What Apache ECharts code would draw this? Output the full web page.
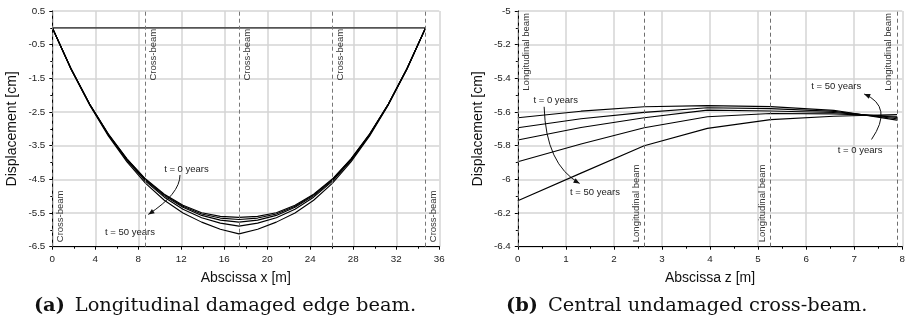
<!DOCTYPE html>
<html>
<head>
<meta charset="utf-8">
<script src="https://cdn.jsdelivr.net/npm/echarts@6/dist/echarts.min.js"></script>
<style>
  html, body { margin: 0; padding: 0; background: #fff; }
  #c { width: 908px; height: 324px; }
</style>
</head>
<body>
<div id="c"></div>
<script>
// ---- (a) Longitudinal damaged edge beam: displacement along x [m] ----
const edgeX = [0, 1.736, 3.473, 5.209, 6.946, 8.682, 10.419, 12.156, 13.892, 15.629, 17.365,
               19.102, 20.838, 22.575, 24.311, 26.048, 27.784, 29.521, 31.257, 32.994, 34.73];
const edgeT0  = [0, -1.21, -2.26, -3.15, -3.89, -4.49, -4.94, -5.27, -5.49, -5.60, -5.63,
                 -5.60, -5.49, -5.27, -4.94, -4.49, -3.89, -3.15, -2.26, -1.21, 0];
const edgeT1  = [0, -1.21, -2.26, -3.16, -3.90, -4.51, -4.96, -5.30, -5.53, -5.65, -5.69,
                 -5.65, -5.53, -5.30, -4.96, -4.51, -3.90, -3.16, -2.26, -1.21, 0];
const edgeT2  = [0, -1.21, -2.27, -3.17, -3.92, -4.53, -4.99, -5.33, -5.57, -5.71, -5.77,
                 -5.71, -5.57, -5.33, -4.99, -4.53, -3.92, -3.17, -2.27, -1.21, 0];
const edgeT3  = [0, -1.22, -2.28, -3.18, -3.94, -4.56, -5.03, -5.39, -5.64, -5.80, -5.89,
                 -5.80, -5.64, -5.39, -5.03, -4.56, -3.94, -3.18, -2.28, -1.22, 0];
const edgeT50 = [0, -1.23, -2.29, -3.21, -3.98, -4.62, -5.12, -5.50, -5.77, -5.98, -6.12,
                 -5.98, -5.77, -5.50, -5.12, -4.62, -3.98, -3.21, -2.29, -1.23, 0];
const undeformedA = [[0, 0], [34.73, 0]];
const crossBeamX = [0, 8.682, 17.365, 26.048, 34.73];
const crossBeamLabel = 'Cross-beam';

// ---- (b) Central undamaged cross-beam: displacement along z [m] ----
const crossZ   = [0, 1.315, 2.63, 3.945, 5.26, 6.575, 7.89];
const crossT0  = [-5.634, -5.595, -5.569, -5.562, -5.568, -5.590, -5.648];
const crossT1  = [-5.693, -5.640, -5.602, -5.575, -5.580, -5.596, -5.640];
const crossT2  = [-5.766, -5.692, -5.634, -5.589, -5.594, -5.603, -5.632];
const crossT3  = [-5.895, -5.790, -5.693, -5.628, -5.609, -5.611, -5.625];
const crossT50 = [-6.127, -5.963, -5.800, -5.697, -5.645, -5.625, -5.615];
const longBeamZ = [0, 2.63, 5.26, 7.89];
const longBeamLabel = 'Longitudinal beam';

// axis ticks
const xTicksA = { min: 0, max: 36, step: 4 };
const yTicksA = { min: -6.5, max: 0.5, step: 1 };
const xTicksB = { min: 0, max: 8, step: 1 };
const yTicksB = { min: -6.4, max: -5, step: 0.2 };

const SANS = '"Liberation Sans", Arial, sans-serif';
const SERIF = '"DejaVu Serif", serif';

const zip = (xs, ys) => xs.map((x, i) => [x, ys[i]]);

function valueAxis(gridIndex, t, fmt, name, isY) {
  return {
    type: 'value', gridIndex, min: t.min, max: t.max, interval: t.step,
    name, nameLocation: 'middle', nameGap: isY ? 33 : 24,
    nameTextStyle: { fontFamily: SANS, fontSize: 14, color: '#111' },
    axisLine: { show: true, onZero: false, lineStyle: { color: '#000', width: 1 } },
    axisTick: { show: true, length: 3, lineStyle: { color: '#000', width: 1 } },
    minorTick: { show: true, splitNumber: 2, length: 2, lineStyle: { color: '#000', width: 1 } },
    splitLine: { show: true, lineStyle: { color: '#d5d5d5', width: 1.5 } },
    axisLabel: { fontFamily: SANS, fontSize: 9.8, color: '#222', margin: isY ? 7 : 8, formatter: fmt }
  };
}

const curve = (xi, yi, xs, ys) => ({
  type: 'line', xAxisIndex: xi, yAxisIndex: yi, data: zip(xs, ys),
  symbol: 'none', silent: true,
  lineStyle: { color: '#000', width: 1.1 }
});

const dashedLines = (vals, color) => ({
  silent: true, symbol: 'none', label: { show: false },
  lineStyle: { type: [4, 3], color, width: 1 },
  data: vals.map(v => ({ xAxis: v }))
});

const chart = echarts.init(document.getElementById('c'));

chart.setOption({
  animation: false,
  backgroundColor: '#fff',
  grid: [
    { left: 52.3, top: 11, width: 387, height: 235.7 },
    { left: 517.8, top: 11, width: 387.2, height: 235.7 }
  ],
  xAxis: [
    valueAxis(0, xTicksA, v => String(v), 'Abscissa x [m]', false),
    valueAxis(1, xTicksB, v => String(v), 'Abscissa z [m]', false)
  ],
  yAxis: [
    valueAxis(0, yTicksA, v => v.toFixed(1), 'Displacement [cm]', true),
    valueAxis(1, yTicksB, v => String(parseFloat(v.toFixed(1))), 'Displacement [cm]', true)
  ],
  series: [
    {
      type: 'line', xAxisIndex: 0, yAxisIndex: 0, data: undeformedA,
      symbol: 'none', silent: true, lineStyle: { color: '#555', width: 1.6 },
      markLine: dashedLines(crossBeamX, '#777')
    },
    curve(0, 0, edgeX, edgeT0),
    curve(0, 0, edgeX, edgeT1),
    curve(0, 0, edgeX, edgeT2),
    curve(0, 0, edgeX, edgeT3),
    curve(0, 0, edgeX, edgeT50),
    {
      type: 'line', xAxisIndex: 1, yAxisIndex: 1, data: [],
      symbol: 'none', silent: true,
      markLine: dashedLines(longBeamZ, '#6e6e6e')
    },
    curve(1, 1, crossZ, crossT0),
    curve(1, 1, crossZ, crossT1),
    curve(1, 1, crossZ, crossT2),
    curve(1, 1, crossZ, crossT3),
    curve(1, 1, crossZ, crossT50)
  ]
});

// ---- annotations placed through the axes ----
const px = (g, x, y) => chart.convertToPixel({ gridIndex: g }, [x, y]);
const graphics = [];
const smallFont = '9.5px ' + SANS;

function label(g, x, y, text) {
  const p = px(g, x, y);
  graphics.push({ type: 'text', x: p[0], y: p[1], silent: true,
    style: { text, font: smallFont, fill: '#222', align: 'center', verticalAlign: 'middle' } });
}

function arrow(g, s, c, e) {
  const P = px(g, s[0], s[1]), C = px(g, c[0], c[1]), E = px(g, e[0], e[1]);
  graphics.push({ type: 'bezierCurve', silent: true,
    shape: { x1: P[0], y1: P[1], cpx1: C[0], cpy1: C[1], x2: E[0], y2: E[1] },
    style: { stroke: '#111', lineWidth: 1, fill: null } });
  let dx = E[0] - C[0], dy = E[1] - C[1];
  const L = Math.hypot(dx, dy); dx /= L; dy /= L;
  const len = 6, w = 2.6;
  const bx = E[0] - dx * len, by = E[1] - dy * len;
  graphics.push({ type: 'polygon', silent: true,
    shape: { points: [[E[0], E[1]], [bx - dy * w, by + dx * w], [bx + dy * w, by - dx * w]] },
    style: { fill: '#111' } });
}

// vertical beam labels, reading upward
function beamLabel(g, xv, text, atTop, side, yMin, yMax) {
  const line = px(g, xv, yMin);
  const top = px(g, xv, yMax)[1];
  const bottom = line[1];
  const xPix = line[0] + side * 8.2;
  graphics.push({ type: 'text', silent: true, rotation: Math.PI / 2,
    x: xPix, y: atTop ? top : bottom - 4.5,
    style: { text, font: smallFont, fill: '#333',
             align: atTop ? 'right' : 'left', verticalAlign: 'middle' } });
}

// (a) cross-beam labels: end supports at the bottom, inner ones below the undeformed axis
crossBeamX.forEach((xv, i) => {
  const atEnd = i === 0 || i === crossBeamX.length - 1;
  beamLabel(0, xv, crossBeamLabel, !atEnd, 1, yTicksA.min, atEnd ? yTicksA.max : -0.03);
});
// (b) longitudinal beam labels
longBeamZ.forEach((zv, i) => {
  const atTop = i === 0 || i === longBeamZ.length - 1;
  const side = i === 0 ? 1 : -1;
  beamLabel(1, zv, longBeamLabel, atTop, side, yTicksB.min, yTicksB.max - 0.012);
});

label(0, 12.48, -4.19, 't = 0 years');
label(0, 7.23, -6.08, 't = 50 years');
arrow(0, [11.88, -4.37], [11.88, -4.93], [8.93, -5.54]);

label(1, 0.789, -5.529, 't = 0 years');
label(1, 1.605, -6.077, 't = 50 years');
arrow(1, [0.548, -5.569], [0.583, -5.912], [1.286, -6.024]);

label(1, 6.626, -5.446, 't = 50 years');
label(1, 7.122, -5.826, 't = 0 years');
arrow(1, [7.36, -5.763], [7.824, -5.569], [7.208, -5.493]);

// sub-figure captions
function caption(cx, text, tag) {
  graphics.push({ type: 'text', x: cx, y: 306, silent: true,
    style: {
      text: '{b|' + tag + '}' + text,
      align: 'center', verticalAlign: 'middle',
      font: '19.4px ' + SERIF, fill: '#111',
      rich: { b: { fontFamily: SERIF, fontSize: 19.4, fontWeight: 'bold', fill: '#111', padding: [0, 10, 0, 0] } }
    } });
}
caption(225, 'Longitudinal damaged edge beam.', '(a)');
caption(686.7, 'Central undamaged cross-beam.', '(b)');

chart.setOption({ graphic: graphics });
</script>
</body>
</html>
